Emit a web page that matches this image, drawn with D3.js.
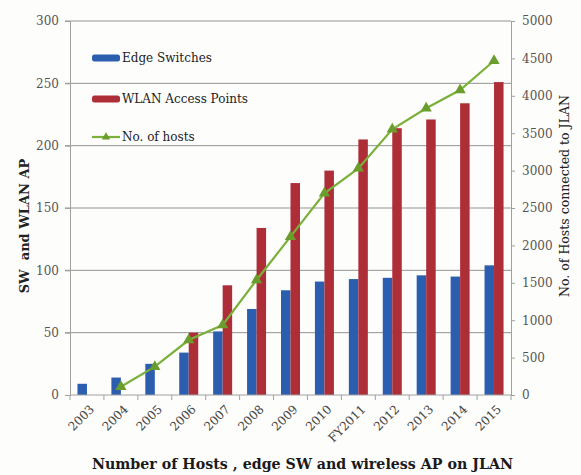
<!DOCTYPE html>
<html>
<head>
<meta charset="utf-8">
<script src="https://cdn.jsdelivr.net/npm/d3@7/dist/d3.min.js"></script>
<style>
  html, body { margin: 0; padding: 0; background: #fdfdfc; }
  svg { display: block; }
  text { font-family: "DejaVu Serif", "Liberation Serif", serif; }
</style>
</head>
<body>
<svg id="chart" width="581" height="475"></svg>
<script>
// Fiscal years on the x axis
const years = ["2003", "2004", "2005", "2006", "2007", "2008", "2009", "2010",
               "FY2011", "2012", "2013", "2014", "2015"];
// Edge switches (left axis)
const edgeSwitches = [9, 14, 25, 34, 51, 69, 84, 91, 93, 94, 96, 95, 104];
// WLAN access points (left axis); none before 2006
const wlanAPs = [null, null, null, 50, 88, 134, 170, 180, 205, 214, 221, 234, 251];
// Hosts connected to JLAN (right axis)
const hosts = [null, 110, 379, 735, 936, 1537, 2117, 2696, 3030, 3552, 3833, 4077, 4469];

const leftTicks = [0, 50, 100, 150, 200, 250, 300];
const rightTicks = [0, 500, 1000, 1500, 2000, 2500, 3000, 3500, 4000, 4500, 5000];

const colors = { sw: "#2c5eb0", ap: "#ae2e38", host: "#7bb03a", hostMarker: "#6a9d2c" };

const svg = d3.select("#chart");
const m = { left: 70, right: 511, top: 21, bottom: 395 };

const x = d3.scaleBand().domain(years).range([m.left, m.right]).padding(0);
const yL = d3.scaleLinear().domain([0, 300]).range([m.bottom, m.top]);
const yR = d3.scaleLinear().domain([0, 5000]).range([m.bottom, m.top]);

// Horizontal gridlines at the left-axis ticks
svg.append("g")
  .selectAll("line")
  .data(leftTicks.filter(d => d > 0))
  .join("line")
  .attr("x1", m.left - 5).attr("x2", m.right)
  .attr("y1", d => yL(d)).attr("y2", d => yL(d))
  .attr("stroke", "#939393").attr("stroke-width", 1);

// Left axis
const axisL = svg.append("g")
  .attr("transform", `translate(${m.left},0)`)
  .call(d3.axisLeft(yL).tickValues(leftTicks).tickFormat(d3.format("d")).tickSize(5).tickPadding(6));
// Right axis
const axisR = svg.append("g")
  .attr("transform", `translate(${m.right},0)`)
  .call(d3.axisRight(yR).tickValues(rightTicks).tickFormat(d3.format("d")).tickSize(4).tickPadding(7));
[axisL, axisR].forEach(a => {
  a.select(".domain").attr("stroke", "#a0a0a0");
  a.selectAll(".tick line").attr("stroke", "#a0a0a0");
  a.selectAll("text").attr("fill", "#555").style("font-size", "12px")
    .style("font-family", '"DejaVu Serif", serif');
});

// Bars: edge switches on the left half of each band, access points on the right
const bw = 9.5;
svg.append("g")
  .selectAll("rect")
  .data(years.map((yr, i) => ({ yr, v: edgeSwitches[i] })))
  .join("rect")
  .attr("x", d => x(d.yr) + x.bandwidth() / 2 - bw)
  .attr("width", bw)
  .attr("y", d => yL(d.v))
  .attr("height", d => yL(0) - yL(d.v))
  .attr("fill", colors.sw);

svg.append("g")
  .selectAll("rect")
  .data(years.map((yr, i) => ({ yr, v: wlanAPs[i] })).filter(d => d.v != null))
  .join("rect")
  .attr("x", d => x(d.yr) + x.bandwidth() / 2)
  .attr("width", bw)
  .attr("y", d => yL(d.v))
  .attr("height", d => yL(0) - yL(d.v))
  .attr("fill", colors.ap);

// Bottom axis with ticks between categories
svg.append("line")
  .attr("x1", m.left).attr("x2", m.right)
  .attr("y1", m.bottom).attr("y2", m.bottom)
  .attr("stroke", "#a0a0a0");
svg.append("g")
  .selectAll("line")
  .data(years.concat(["end"]))
  .join("line")
  .attr("x1", (d, i) => m.left + i * x.step())
  .attr("x2", (d, i) => m.left + i * x.step())
  .attr("y1", m.bottom).attr("y2", m.bottom + 5)
  .attr("stroke", "#a0a0a0");
svg.append("g")
  .selectAll("text")
  .data(years)
  .join("text")
  .attr("transform", d => `translate(${x(d) + x.bandwidth() / 2 + 5},${m.bottom + 12}) rotate(-45)`)
  .attr("text-anchor", "end")
  .attr("dy", "0.35em")
  .attr("fill", "#444")
  .style("font-size", "12px")
  .text(d => d);

// Hosts line with triangle markers
const hostPts = years.map((yr, i) => ({ yr, v: hosts[i] })).filter(d => d.v != null);
svg.append("path")
  .datum(hostPts)
  .attr("fill", "none")
  .attr("stroke", colors.host)
  .attr("stroke-width", 2.2)
  .attr("d", d3.line().x(d => x(d.yr) + x.bandwidth() / 2).y(d => yR(d.v)));
const tri = d3.symbol().type(d3.symbolTriangle).size(55);
svg.append("g")
  .selectAll("path")
  .data(hostPts)
  .join("path")
  .attr("transform", d => `translate(${x(d.yr) + x.bandwidth() / 2},${yR(d.v)})`)
  .attr("d", tri)
  .attr("fill", colors.hostMarker);

// Legend
const legend = [
  { label: "Edge Switches", type: "bar", color: colors.sw, y: 58 },
  { label: "WLAN Access Points", type: "bar", color: colors.ap, y: 99 },
  { label: "No. of hosts", type: "line", color: colors.host, y: 137 }
];
const lg = svg.append("g");
legend.forEach(d => {
  if (d.type === "bar") {
    lg.append("rect").attr("x", 92).attr("y", d.y - 3.5).attr("width", 28).attr("height", 7)
      .attr("rx", 2.5).attr("fill", d.color);
  } else {
    lg.append("line").attr("x1", 92).attr("x2", 120).attr("y1", d.y).attr("y2", d.y)
      .attr("stroke", d.color).attr("stroke-width", 2.2);
    lg.append("path").attr("transform", `translate(106,${d.y})`)
      .attr("d", d3.symbol().type(d3.symbolTriangle).size(30)).attr("fill", colors.hostMarker);
  }
  lg.append("text").attr("x", 122).attr("y", d.y).attr("dy", "0.35em")
    .attr("fill", "#222").style("font-size", "12px").text(d.label);
});

// Axis titles
svg.append("text")
  .attr("transform", "translate(29,226) rotate(-90)")
  .attr("text-anchor", "middle")
  .attr("fill", "#222").style("font-size", "13px").style("font-weight", "bold")
  .attr("xml:space", "preserve")
  .text("SW  and WLAN AP");
svg.append("text")
  .attr("transform", "translate(569,196) rotate(-90)")
  .attr("text-anchor", "middle")
  .attr("fill", "#222").style("font-size", "12.5px")
  .text("No. of Hosts connected to JLAN");

svg.append("text")
  .attr("x", 92).attr("y", 469)
  .attr("textLength", 421).attr("lengthAdjust", "spacingAndGlyphs")
  .attr("fill", "#1a1a1a").style("font-size", "15px").style("font-weight", "bold")
  .text("Number of Hosts , edge SW and wireless AP on JLAN");
</script>
</body>
</html>
